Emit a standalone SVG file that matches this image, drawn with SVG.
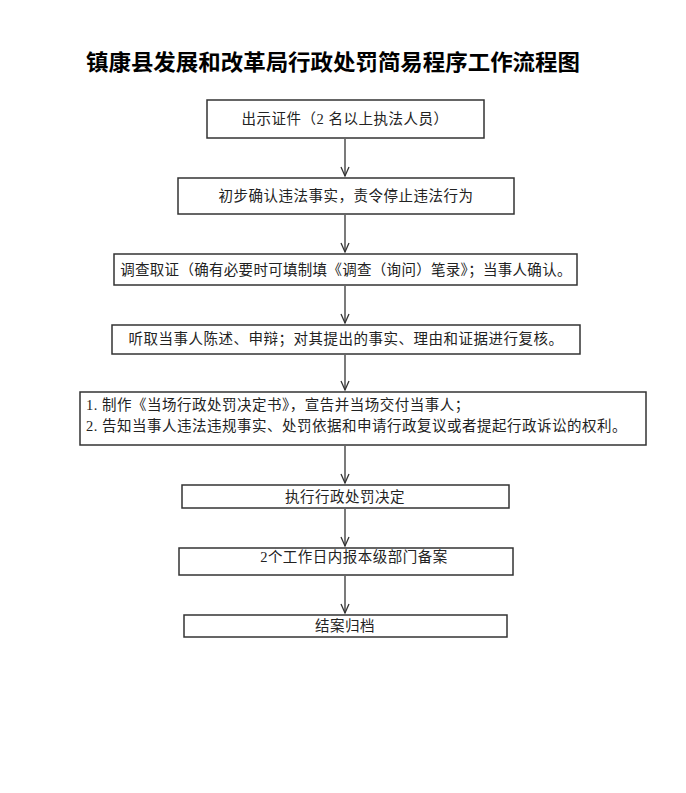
<svg xmlns="http://www.w3.org/2000/svg" width="686" height="793" viewBox="0 0 686 793">
<style>
.box{fill:#fff;stroke:#333;stroke-width:1.5}
.t{font-family:"Liberation Serif","Noto Sans CJK SC",serif;font-size:14.5px;fill:#222;letter-spacing:0.5px}
.c{text-anchor:middle}
.title{font-family:"Liberation Serif","Noto Sans CJK SC",serif;font-size:22px;font-weight:bold;fill:#000}
.ln{stroke:#333;stroke-width:1.3;fill:none}
</style>
<defs>
<marker id="ah" markerWidth="12" markerHeight="12" refX="10" refY="6" orient="auto" markerUnits="userSpaceOnUse" viewBox="0 0 12 12">
<path d="M1 2 L10 6 L1 10" fill="none" stroke="#333" stroke-width="1.3"/>
</marker>
</defs>
<rect width="686" height="793" fill="#fff"/>
<text class="title" x="86" y="70" textLength="494" lengthAdjust="spacingAndGlyphs">镇康县发展和改革局行政处罚简易程序工作流程图</text>
<g id="n1"><rect class="box" x="207" y="100" width="277" height="38"/><text class="t c" x="345" y="124">出示证件（2 名以上执法人员）</text></g>
<g id="n2"><rect class="box" x="178" y="178" width="336" height="36"/><text class="t c" x="346" y="201">初步确认违法事实，责令停止违法行为</text></g>
<g id="n3"><rect class="box" x="114" y="254" width="463" height="31"/><text class="t c" x="346" y="275" style="letter-spacing:0.3px">调查取证（确有必要时可填制填《调查（询问）笔录》；当事人确认。</text></g>
<g id="n4"><rect class="box" x="112" y="325" width="468" height="29"/><text class="t c" x="346" y="344">听取当事人陈述、申辩；对其提出的事实、理由和证据进行复核。</text></g>
<g id="n5"><rect class="box" x="80" y="392" width="566" height="53"/><text class="t" x="86" y="410">1. 制作《当场行政处罚决定书》，宣告并当场交付当事人；</text><text class="t" x="86" y="431">2. 告知当事人违法违规事实、处罚依据和申请行政复议或者提起行政诉讼的权利。</text></g>
<g id="n6"><rect class="box" x="182" y="485" width="327" height="23"/><text class="t c" x="345" y="502">执行行政处罚决定</text></g>
<g id="n7"><rect class="box" x="179" y="548" width="334" height="27"/><text class="t c" x="354" y="562">2个工作日内报本级部门备案</text></g>
<g id="n8"><rect class="box" x="184" y="615" width="323" height="22"/><text class="t c" x="345" y="631">结案归档</text></g>
<g id="connectors">
<line class="ln" x1="345" y1="139" x2="345" y2="176" marker-end="url(#ah)"/>
<line class="ln" x1="345" y1="215" x2="345" y2="252" marker-end="url(#ah)"/>
<line class="ln" x1="345" y1="286" x2="345" y2="323" marker-end="url(#ah)"/>
<line class="ln" x1="345" y1="355" x2="345" y2="390" marker-end="url(#ah)"/>
<line class="ln" x1="345" y1="446" x2="345" y2="483" marker-end="url(#ah)"/>
<line class="ln" x1="345" y1="509" x2="345" y2="546" marker-end="url(#ah)"/>
<line class="ln" x1="345" y1="576" x2="345" y2="613" marker-end="url(#ah)"/>
</g>
</svg>
